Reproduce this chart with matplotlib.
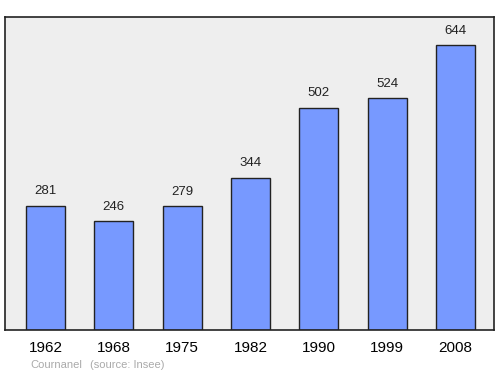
import matplotlib
matplotlib.use('Agg')
import matplotlib.pyplot as plt

years = ['1962', '1968', '1975', '1982', '1990', '1999', '2008']
population = [281, 246, 279, 344, 502, 524, 644]

plt.rcParams['font.family'] = ['Liberation Sans', 'DejaVu Sans']

fig = plt.figure(figsize=(5, 3.74), dpi=100)
# axes box in pixels: left 5, top 17, right 494, bottom 330
ax = fig.add_axes([5 / 500, 1 - 330 / 374, 489 / 500, 313 / 374])
ax.set_facecolor('#eeeeee')

x = range(len(years))
ax.bar(x, population, width=0.571, color='#7799ff', edgecolor='#222222', linewidth=1, zorder=2)

for i, v in zip(x, population):
    ax.annotate(str(v), (i, v), xytext=(0, 6), textcoords='offset points',
                ha='center', va='bottom', fontsize=9.5, color='#222222')

ax.set_xlim(-0.593, 6.564)
ax.set_ylim(0, 707)
ax.set_yticks([])
ax.set_xticks(list(x))
ax.set_xticklabels(years, fontsize=11)
ax.tick_params(axis='x', length=0, pad=8)
for s in ax.spines.values():
    s.set_color('#222222')
    s.set_linewidth(1.2)

fig.text(30 / 500, 1 - 365 / 374, 'Cournanel', fontsize=8,
         color='#aaaaaa', va='center', ha='left')
fig.text(90 / 500, 1 - 365 / 374, '(source: Insee)', fontsize=8,
         color='#aaaaaa', va='center', ha='left')

fig.savefig('out.png', dpi=100)
